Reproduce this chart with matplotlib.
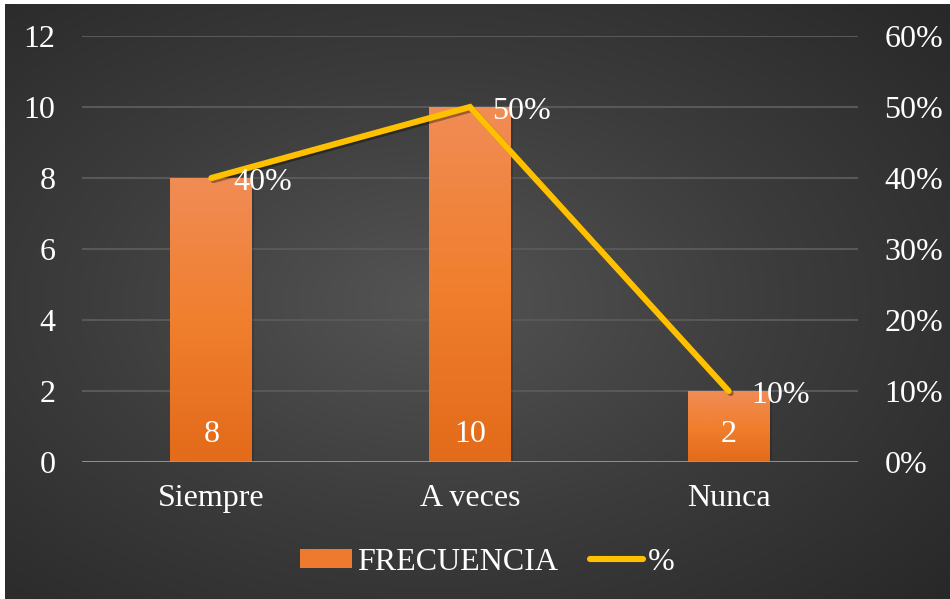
import numpy as np
import matplotlib.pyplot as plt
import matplotlib.patheffects as pe
from matplotlib.colors import LinearSegmentedColormap
from matplotlib.patches import Patch
from matplotlib.lines import Line2D

# ---------- 数据 ----------
categories = ["Siempre", "A veces", "Nunca"]
frecuencia = [8, 10, 2]
porcentaje = [0.40, 0.50, 0.10]
y_left_ticks = [0, 2, 4, 6, 8, 10, 12]
y_right_ticks = [0, 0.1, 0.2, 0.3, 0.4, 0.5, 0.6]

plt.rcParams['font.family'] = ['Liberation Serif', 'DejaVu Serif']
FS = 23
W, H = 950, 599
fig = plt.figure(figsize=(W / 100, H / 100), dpi=100)
fig.patch.set_facecolor('white')

# ---- 背景：径向渐变 ----
bg = fig.add_axes([5 / W, 0, 945 / W, 595 / H])
bg.set_axis_off()
yy, xx = np.mgrid[0:1:300j, 0:1:480j]
r = np.sqrt(((xx - 0.45) / 0.75) ** 2 + ((yy - 0.5) / 0.75) ** 2)
r = np.clip(r / r.max(), 0, 1)
bg_cmap = LinearSegmentedColormap.from_list('bg', ['#545454', '#3c3c3c', '#282828'])
bg.imshow(r, cmap=bg_cmap, aspect='auto', extent=[0, 1, 0, 1], vmin=0, vmax=1)
bg.set_xlim(0, 1)
bg.set_ylim(0, 1)

# ---- 主坐标轴 ----
ax = fig.add_axes([82 / W, 137 / H, 776 / W, 426 / H])
ax.set_facecolor('none')
x = np.arange(len(categories))
bw = 0.317
ax.set_xlim(-0.5, len(categories) - 0.5)
ax.set_ylim(0, 12)

bar_cmap = LinearSegmentedColormap.from_list('bar', ['#E36B1A', '#F07F2E', '#F08C55'])
grad = np.linspace(0, 1, 100).reshape(-1, 1)
bars = ax.bar(x, frecuencia, width=bw, color='none', zorder=3)
for b in bars:
    x0, h = b.get_x(), b.get_height()
    ax.bar(x0 + bw / 2 + 0.008, h, width=bw, color='#000000', alpha=0.15, zorder=2)
    im = ax.imshow(grad, cmap=bar_cmap, origin='lower', aspect='auto',
                   extent=[x0, x0 + bw, 0, h], zorder=3)
    im.set_clip_path(b)

for xi, v in zip(x, frecuencia):
    ax.annotate(str(v), (xi, 0), xytext=(0, 20), textcoords='offset points',
                ha='center', va='center', color='white', fontsize=FS, zorder=5)

ax.set_yticks(y_left_ticks)
ax.set_xticks(x)
ax.set_xticklabels(categories)
ax.tick_params(axis='both', length=0, colors='white', labelsize=FS)
ax.tick_params(axis='y', pad=19)
ax.tick_params(axis='x', pad=16)
ax.grid(axis='y', color='#585858', lw=1.5, zorder=0)
for s in ax.spines.values():
    s.set_visible(False)
ax.axhline(0, color='#a0a0a0', lw=1.8, zorder=4)

# ---- 次坐标轴 ----
ax2 = ax.twinx()
ax2.set_ylim(0, 0.6)
ax2.set_yticks(y_right_ticks)
ax2.set_yticklabels([f"{int(round(t * 100))}%" for t in y_right_ticks])
ax2.tick_params(axis='y', length=0, labelcolor='white', labelsize=FS, pad=19)
for s in ax2.spines.values():
    s.set_visible(False)
ax2.plot(x, porcentaje, color='#FFC000', lw=4.4, solid_capstyle='round',
         solid_joinstyle='miter', zorder=6,
         path_effects=[pe.SimpleLineShadow(offset=(1.5, -1.5), alpha=0.35), pe.Normal()])
for xi, p in zip(x, porcentaje):
    ax2.annotate(f"{int(round(p * 100))}%", (xi, p), xytext=(16, -3),
                 textcoords='offset points', ha='left', va='center',
                 color='white', fontsize=FS, zorder=7)

# ---- 图例 ----
handles = [Patch(facecolor='#EE7A30', edgecolor='none'),
           Line2D([0], [0], color='#FFC000', lw=4.4, solid_capstyle='round')]
leg = fig.legend(handles, ["FRECUENCIA", "%"], loc='center',
                 bbox_to_anchor=(487 / W, 37 / H), ncol=2, frameon=False,
                 fontsize=FS, handlelength=1.65, handleheight=0.55,
                 handletextpad=0.15, columnspacing=1.0)
for t in leg.get_texts():
    t.set_color('white')

fig.savefig('out.png', dpi=100, facecolor=fig.get_facecolor())
